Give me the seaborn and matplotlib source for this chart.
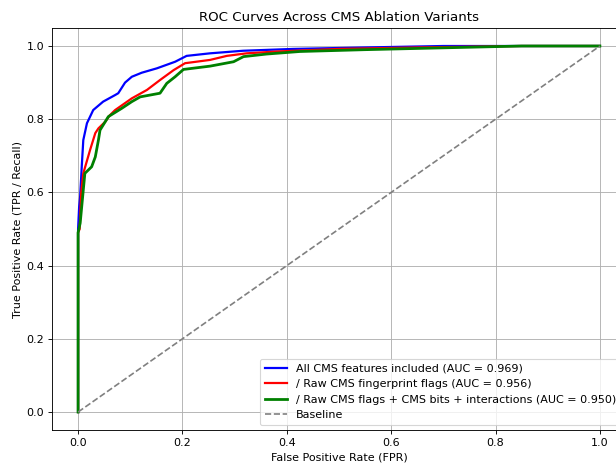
import matplotlib as mpl
mpl.use("Agg")
import matplotlib.pyplot as plt
import seaborn as sns

# ROC points
fpr_all = [0, 0, 0.002, 0.004, 0.007, 0.010, 0.017, 0.029, 0.048, 0.071, 0.077, 0.090,
           0.103, 0.122, 0.151, 0.186, 0.208, 0.253, 0.316, 0.412, 0.55, 0.70, 1.0]
tpr_all = [0, 0.50, 0.56, 0.59, 0.67, 0.743, 0.789, 0.825, 0.848, 0.866, 0.871, 0.900,
           0.916, 0.927, 0.939, 0.957, 0.973, 0.980, 0.987, 0.992, 0.996, 1.0, 1.0]

fpr_raw = [0, 0, 0.003, 0.006, 0.010, 0.023, 0.033, 0.039, 0.052, 0.061, 0.071, 0.084,
           0.103, 0.132, 0.157, 0.183, 0.205, 0.253, 0.285, 0.323, 0.381, 0.50, 0.65, 0.85, 1.0]
tpr_raw = [0, 0.49, 0.50, 0.60, 0.652, 0.716, 0.762, 0.775, 0.793, 0.811, 0.825, 0.838,
           0.857, 0.880, 0.907, 0.934, 0.953, 0.962, 0.973, 0.980, 0.985, 0.992, 0.996, 1.0, 1.0]

fpr_bits = [0, 0, 0.004, 0.010, 0.013, 0.026, 0.033, 0.039, 0.042, 0.058, 0.084, 0.103,
            0.119, 0.157, 0.170, 0.186, 0.202, 0.253, 0.298, 0.317, 0.361, 0.425, 0.55,
            0.70, 0.85, 1.0]
tpr_bits = [0, 0.49, 0.516, 0.607, 0.652, 0.67, 0.697, 0.743, 0.77, 0.807, 0.83, 0.848,
            0.861, 0.871, 0.898, 0.916, 0.936, 0.945, 0.957, 0.971, 0.978, 0.985, 0.990,
            0.995, 1.0, 1.0]

labels = ['All CMS features included (AUC = 0.969)',
          '/ Raw CMS fingerprint flags (AUC = 0.956)',
          '/ Raw CMS flags + CMS bits + interactions (AUC = 0.950)']
baseline = [0, 1]

fig = plt.figure(figsize=(7.7, 5.8), dpi=80)
ax = fig.add_axes([0.0844, 0.0726, 0.9318, 0.8677])

sns.lineplot(x=fpr_all, y=tpr_all, sort=False, estimator=None, color='blue', lw=2, label=labels[0], ax=ax)
sns.lineplot(x=fpr_raw, y=tpr_raw, sort=False, estimator=None, color='red', lw=2, label=labels[1], ax=ax)
sns.lineplot(x=fpr_bits, y=tpr_bits, sort=False, estimator=None, color='green', lw=2.5, label=labels[2], ax=ax)
ax.plot(baseline, baseline, linestyle='--', color='gray', lw=1.5, label='Baseline')

ax.set_xlim(-0.05, 1.05)
ax.set_ylim(-0.05, 1.05)
ax.set_xlabel('False Positive Rate (FPR)')
ax.set_ylabel('True Positive Rate (TPR / Recall)')
ax.set_title('ROC Curves Across CMS Ablation Variants')
ax.grid(True)
ax.legend(loc='lower right')

fig.savefig('out.png', dpi=80)
plt.close()
